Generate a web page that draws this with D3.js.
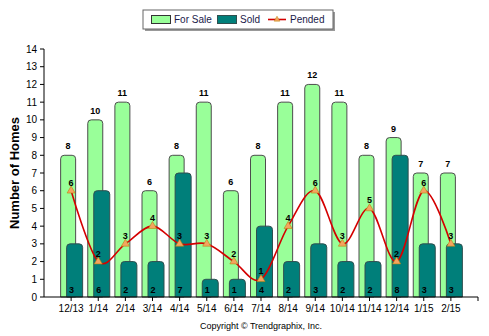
<!DOCTYPE html>
<html><head><meta charset="utf-8">
<script src="https://cdn.jsdelivr.net/npm/d3@7"></script>
<style>body{margin:0;background:#fff}svg{display:block}</style>
</head><body>
<script>
const categories = ["12/13","1/14","2/14","3/14","4/14","5/14","6/14","7/14","8/14","9/14","10/14","11/14","12/14","1/15","2/15"];
const forSale = [8,10,11,6,8,11,6,8,11,12,11,8,9,7,7];
const sold = [3,6,2,2,7,1,1,4,2,3,2,2,8,3,3];
const pended = [6,2,3,4,3,3,2,1,4,6,3,5,2,6,3];
const yTicks = d3.range(0,15);

const W=489,H=336;
const svg=d3.select("body").append("svg").attr("width",W).attr("height",H);
const x=d3.scalePoint().domain(categories).range([44,478]).padding(1);
const y=d3.scaleLinear().domain([0,14]).range([297,49]);
const font="Tahoma, 'DejaVu Sans Condensed', Arial, 'Liberation Sans', sans-serif";
const font2="Arial, 'Liberation Sans', sans-serif";

function roundTopBar(x0,w,yTop,yBot,r){
  r=Math.min(r,w/2,(yBot-yTop));
  return `M${x0},${yBot}V${yTop+r}Q${x0},${yTop} ${x0+r},${yTop}H${x0+w-r}Q${x0+w},${yTop} ${x0+w},${yTop+r}V${yBot}Z`;
}

// For Sale bars
svg.append("g").selectAll("path").data(categories).join("path")
  .attr("d",(c,i)=>roundTopBar(x(c)-10.5,15,y(forSale[i]),y(0),3.5))
  .attr("fill","#99FF99").attr("stroke","#4d4d4d").attr("stroke-width",1);
// Sold bars
svg.append("g").selectAll("path").data(categories).join("path")
  .attr("d",(c,i)=>roundTopBar(x(c)-4.5,16,y(sold[i]),y(0),3.5))
  .attr("fill","#007F7A").attr("stroke","#2f4f4f").attr("stroke-width",1);

// Axes
svg.append("line").attr("x1",44).attr("x2",44).attr("y1",49).attr("y2",297).attr("stroke","#000");
svg.append("line").attr("x1",44).attr("x2",478).attr("y1",297).attr("y2",297).attr("stroke","#000");
const yg=svg.append("g");
yTicks.forEach(t=>{
  yg.append("line").attr("x1",40).attr("x2",44).attr("y1",y(t)).attr("y2",y(t)).attr("stroke","#000");
  yg.append("text").attr("x",37).attr("y",y(t)).attr("dy","0.35em").attr("text-anchor","end")
    .attr("font-family",font2).attr("font-size",10).attr("fill","#000").text(t);
});
const xg=svg.append("g");
categories.forEach(c=>{
  xg.append("line").attr("x1",x(c)).attr("x2",x(c)).attr("y1",297).attr("y2",301).attr("stroke","#000");
  xg.append("text").attr("x",x(c)).attr("y",312).attr("text-anchor","middle")
    .attr("font-family",font2).attr("font-size",10).attr("fill","#000").text(c);
});
xg.append("line").attr("x1",478).attr("x2",478).attr("y1",297).attr("y2",301).attr("stroke","#000");

// For sale labels
svg.append("g").selectAll("text").data(categories).join("text")
  .attr("x",(c,i)=>x(c)-3).attr("y",(c,i)=>y(forSale[i])-6).attr("text-anchor","middle")
  .attr("font-family",font2).attr("font-size",9).attr("font-weight","bold").attr("fill","#000")
  .text((c,i)=>forSale[i]);
// Sold labels
svg.append("g").selectAll("text").data(categories).join("text")
  .attr("x",(c,i)=>x(c)+0.5).attr("y",293).attr("text-anchor","middle")
  .attr("font-family",font2).attr("font-size",9).attr("font-weight","bold").attr("fill","#000")
  .text((c,i)=>sold[i]);

// Pended line
const line=d3.line().x((d,i)=>x(categories[i])).y(d=>y(d)).curve(d3.curveCardinal.tension(0));
svg.append("path").datum(pended).attr("d",line).attr("fill","none").attr("stroke","#D40000").attr("stroke-width",1.6);
const tri=d3.symbol().type(d3.symbolTriangle).size(28);
svg.append("g").selectAll("path").data(pended).join("path")
  .attr("transform",(d,i)=>`translate(${x(categories[i])},${y(d)})`)
  .attr("d",tri).attr("fill","#F4A460").attr("stroke","#B8860B").attr("stroke-width",0.6);
svg.append("g").selectAll("text").data(pended).join("text")
  .attr("x",(d,i)=>x(categories[i])).attr("y",d=>y(d)-5).attr("text-anchor","middle")
  .attr("font-family",font2).attr("font-size",9).attr("font-weight","bold").attr("fill","#000")
  .text(d=>d);

// Y title
svg.append("text").attr("transform","translate(19,173) rotate(-90)").attr("text-anchor","middle")
  .attr("font-family",font2).attr("font-size",13).attr("font-weight","bold").attr("fill","#000")
  .text("Number of Homes");

// Legend
const lg=svg.append("g");
lg.append("rect").attr("x",145).attr("y",12).attr("width",190).attr("height",19).attr("fill","#999");
lg.append("rect").attr("x",143).attr("y",10).attr("width",190).attr("height",19).attr("fill","#fff").attr("stroke","#666");
lg.append("rect").attr("x",151.5).attr("y",15.5).attr("width",19).attr("height",8).attr("fill","#99FF99").attr("stroke","#333");
lg.append("text").attr("x",174).attr("y",23).attr("font-family",font2).attr("font-size",10).attr("fill","#1a1a4a").text("For Sale");
lg.append("rect").attr("x",217.5).attr("y",15.5).attr("width",19).attr("height",8).attr("fill","#007F7A").attr("stroke","#2f4f4f");
lg.append("text").attr("x",240).attr("y",23).attr("font-family",font2).attr("font-size",10).attr("fill","#1a1a4a").text("Sold");
lg.append("line").attr("x1",268).attr("x2",286).attr("y1",19.5).attr("y2",19.5).attr("stroke","#D40000").attr("stroke-width",1.6);
lg.append("path").attr("transform","translate(277,19.5)").attr("d",d3.symbol().type(d3.symbolTriangle).size(14)).attr("fill","#F4A460").attr("stroke","#B8860B").attr("stroke-width",0.5);
lg.append("text").attr("x",290).attr("y",23).attr("font-family",font2).attr("font-size",10).attr("fill","#1a1a4a").text("Pended");

// Copyright
svg.append("text").attr("x",261).attr("y",329).attr("text-anchor","middle")
  .attr("font-family",font2).attr("font-size",9).attr("fill","#000").text("Copyright \u00A9 Trendgraphix, Inc.");
</script>
</body></html>
